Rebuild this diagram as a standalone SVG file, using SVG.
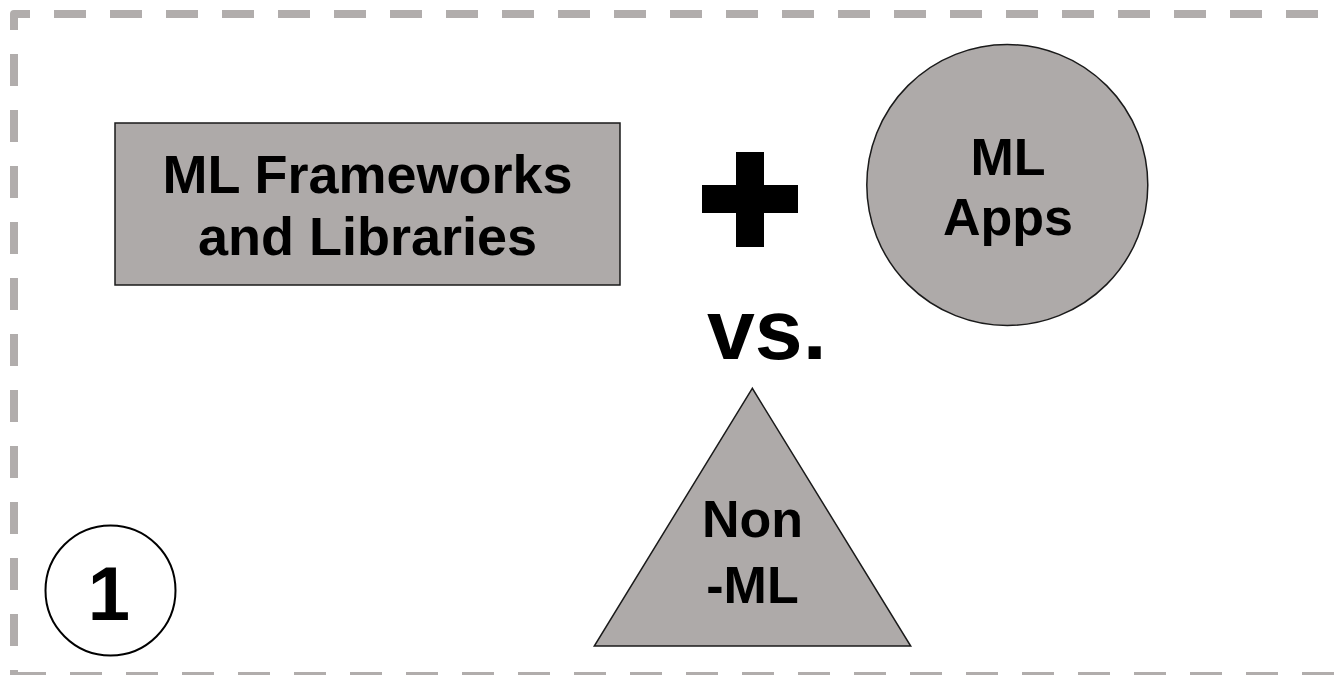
<svg xmlns="http://www.w3.org/2000/svg" width="1337" height="675" viewBox="0 0 1337 675">
  <style>
    .border { fill: none; stroke: #b1adac; stroke-width: 8; stroke-dasharray: 32 24; stroke-linejoin: round; }
    .shape { fill: #aeaaa9; stroke: #1a1a1a; stroke-width: 1.5; }
    .lbl { font-family: "Liberation Sans", Arial, sans-serif; font-weight: bold; fill: #000; text-anchor: middle; }
  </style>
  <rect width="1337" height="675" fill="#ffffff"/>
  <g id="frame">
    <path class="border" d="M14,702 L14,14 L1400,14"/>
    <path class="border" d="M14,676 L1400,676"/>
  </g>
  <g id="frameworks">
    <rect class="shape" x="115" y="123" width="505" height="162"/>
    <text class="lbl" x="367.5" y="192.5" font-size="54">ML Frameworks</text>
    <text class="lbl" x="367.5" y="255" font-size="54">and Libraries</text>
  </g>
  <g id="plus">
    <path d="M736,152 H764 V185 H798 V213 H764 V247 H736 V213 H702 V185 H736 Z" fill="#000"/>
  </g>
  <g id="ml-apps">
    <circle class="shape" cx="1007.3" cy="185" r="140.5"/>
    <text class="lbl" x="1008" y="174.5" font-size="52">ML</text>
    <text class="lbl" x="1008" y="235" font-size="52">Apps</text>
  </g>
  <g id="vs">
    <text x="707" y="358.5" font-size="86" font-family="Liberation Sans, Arial, sans-serif" font-weight="bold" fill="#000">vs.</text>
  </g>
  <g id="non-ml">
    <polygon class="shape" points="752.3,388.3 594.3,646 910.7,646"/>
    <text class="lbl" x="752.5" y="537" font-size="52">Non</text>
    <text class="lbl" x="752.5" y="603" font-size="52">-ML</text>
  </g>
  <g id="badge">
    <circle cx="110.5" cy="590.5" r="65" fill="#fff" stroke="#000" stroke-width="2"/>
    <text class="lbl" x="109" y="619.5" font-size="76">1</text>
  </g>
  <g id="connectors"></g>
</svg>
